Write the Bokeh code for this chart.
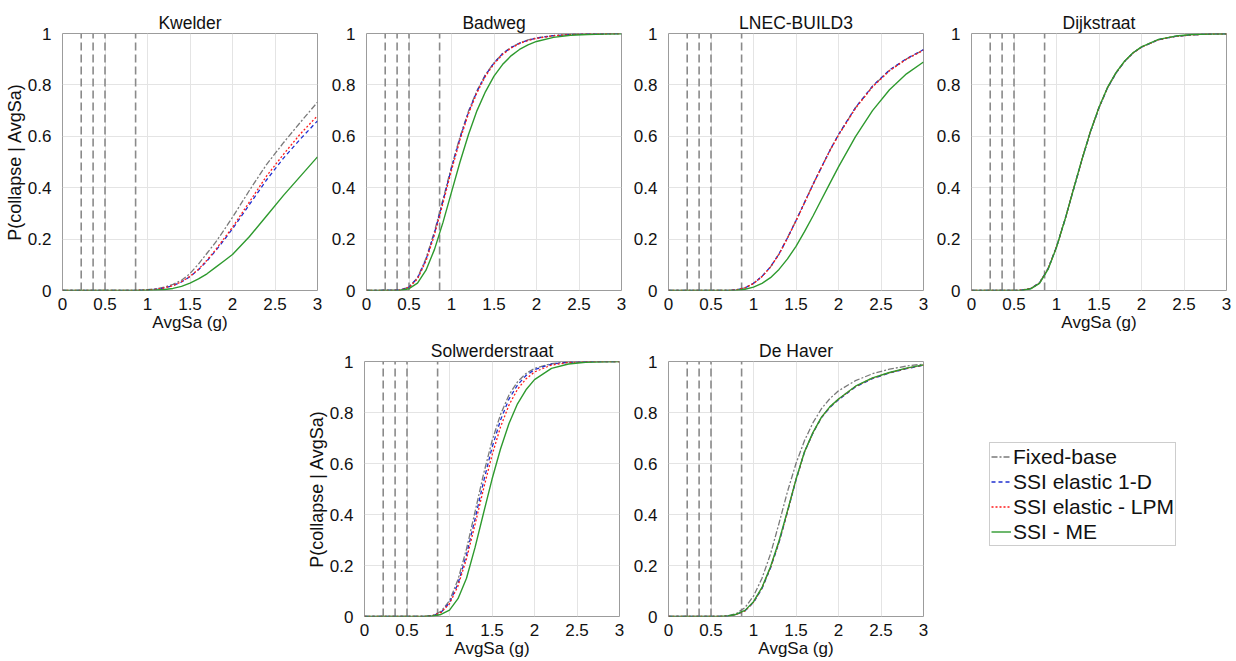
from bokeh.plotting import figure
from bokeh.layouts import row, column, Spacer
from bokeh.models import Legend, LegendItem, FixedTicker, Range1d
from bokeh.embed import file_html
from bokeh.resources import INLINE

# ---------------- data ----------------
AVGSA = [0, 0.4, 0.5, 0.6, 0.7, 0.8, 0.9, 1.0, 1.1, 1.2, 1.3, 1.4, 1.5,
         1.6, 1.7, 1.8, 1.9, 2.0, 2.2, 2.4, 2.6, 2.8, 3.0]

IM_LEVELS = [0.22, 0.36, 0.5, 0.86]

X_TICKS = [0, 0.5, 1, 1.5, 2, 2.5, 3]
X_TICK_LABELS = ["0", "0.5", "1", "1.5", "2", "2.5", "3"]
Y_TICKS = [0, 0.2, 0.4, 0.6, 0.8, 1]
Y_TICK_LABELS = ["0", "0.2", "0.4", "0.6", "0.8", "1"]

SERIES = ["Fixed-base", "SSI elastic 1-D", "SSI elastic - LPM", "SSI - ME"]
BUILDINGS = ["Kwelder", "Badweg", "LNEC-BUILD3", "Dijkstraat",
             "Solwerderstraat", "De Haver"]

KWELDER_FB = [0, 0, 0, 0, 0, 0, 0.001, 0.003, 0.007, 0.013, 0.024, 0.040, 0.066,
              0.103, 0.145, 0.187, 0.235, 0.285, 0.39, 0.49, 0.575, 0.655, 0.733]
KWELDER_1D = [0, 0, 0, 0, 0, 0, 0.001, 0.002, 0.005, 0.010, 0.019, 0.033, 0.054,
              0.081, 0.115, 0.154, 0.196, 0.240, 0.335, 0.43, 0.515, 0.59, 0.66]
KWELDER_LPM = [0, 0, 0, 0, 0, 0, 0.001, 0.002, 0.005, 0.010, 0.019, 0.034, 0.055,
               0.083, 0.118, 0.158, 0.202, 0.246, 0.345, 0.445, 0.53, 0.61, 0.68]
KWELDER_ME = [0, 0, 0, 0, 0, 0, 0, 0.001, 0.002, 0.004, 0.008, 0.016, 0.029,
              0.045, 0.065, 0.09, 0.115, 0.14, 0.21, 0.29, 0.37, 0.445, 0.52]

BADWEG_FB = [0, 0.002, 0.014, 0.05, 0.125, 0.23, 0.355, 0.482, 0.598, 0.698, 0.778, 0.84, 0.886,
             0.922, 0.946, 0.963, 0.975, 0.983, 0.992, 0.996, 0.998, 0.999, 1.0]
BADWEG_1D = [0, 0.002, 0.013, 0.048, 0.12, 0.224, 0.348, 0.476, 0.593, 0.694, 0.775, 0.838, 0.885,
             0.921, 0.945, 0.962, 0.974, 0.982, 0.992, 0.996, 0.998, 0.999, 1.0]
BADWEG_LPM = [0, 0.001, 0.012, 0.045, 0.115, 0.217, 0.34, 0.468, 0.586, 0.688, 0.77, 0.834, 0.882,
              0.918, 0.943, 0.961, 0.973, 0.981, 0.991, 0.996, 0.998, 0.999, 1.0]
BADWEG_ME = [0, 0.001, 0.007, 0.029, 0.079, 0.16, 0.265, 0.383, 0.5, 0.607, 0.70, 0.774, 0.834,
             0.879, 0.913, 0.938, 0.956, 0.969, 0.985, 0.993, 0.996, 0.998, 0.999]

LNEC_FB = [0, 0, 0, 0, 0, 0.003, 0.01, 0.028, 0.055, 0.092, 0.142, 0.205, 0.272,
           0.342, 0.413, 0.48, 0.546, 0.606, 0.711, 0.794, 0.857, 0.901, 0.936]
LNEC_1D = [0, 0, 0, 0, 0, 0.003, 0.01, 0.028, 0.055, 0.092, 0.142, 0.205, 0.272,
           0.342, 0.413, 0.48, 0.546, 0.607, 0.712, 0.795, 0.858, 0.902, 0.937]
LNEC_LPM = [0, 0, 0, 0, 0, 0.003, 0.01, 0.027, 0.054, 0.091, 0.141, 0.204, 0.271,
            0.341, 0.412, 0.479, 0.545, 0.604, 0.709, 0.792, 0.855, 0.90, 0.935]
LNEC_ME = [0, 0, 0, 0, 0, 0.001, 0.005, 0.013, 0.028, 0.05, 0.082, 0.123, 0.172,
           0.229, 0.29, 0.354, 0.418, 0.481, 0.599, 0.70, 0.781, 0.843, 0.889]

DIJK_FB = [0, 0, 0, 0.002, 0.008, 0.03, 0.085, 0.17, 0.277, 0.394, 0.51, 0.618, 0.711,
           0.788, 0.846, 0.891, 0.924, 0.947, 0.976, 0.989, 0.995, 0.998, 0.999]
DIJK_1D = [0, 0, 0, 0.002, 0.008, 0.03, 0.084, 0.169, 0.276, 0.393, 0.51, 0.618, 0.711,
           0.788, 0.846, 0.891, 0.924, 0.947, 0.976, 0.989, 0.995, 0.998, 0.999]
DIJK_LPM = [0, 0, 0, 0.002, 0.008, 0.029, 0.084, 0.169, 0.276, 0.394, 0.511, 0.619, 0.712,
            0.789, 0.847, 0.891, 0.924, 0.947, 0.976, 0.989, 0.995, 0.998, 0.999]
DIJK_ME = [0, 0, 0, 0.001, 0.007, 0.028, 0.082, 0.168, 0.276, 0.394, 0.511, 0.62, 0.713,
           0.79, 0.848, 0.892, 0.925, 0.948, 0.977, 0.99, 0.996, 0.998, 0.999]

SOLW_FB = [0, 0, 0, 0, 0.0005, 0.004, 0.02, 0.062, 0.145, 0.265, 0.41, 0.558, 0.688,
           0.792, 0.869, 0.92, 0.953, 0.973, 0.992, 0.998, 1.0, 1.0, 1.0]
SOLW_1D = [0, 0, 0, 0, 0, 0.003, 0.016, 0.054, 0.129, 0.242, 0.382, 0.528, 0.662,
           0.77, 0.853, 0.908, 0.945, 0.968, 0.99, 0.997, 0.999, 1.0, 1.0]
SOLW_LPM = [0, 0, 0, 0, 0, 0.003, 0.016, 0.05, 0.12, 0.226, 0.36, 0.5, 0.632,
            0.743, 0.829, 0.891, 0.932, 0.959, 0.986, 0.996, 0.999, 1.0, 1.0]
SOLW_ME = [0, 0, 0, 0, 0, 0.002, 0.008, 0.025, 0.07, 0.15, 0.27, 0.405, 0.538,
           0.657, 0.757, 0.834, 0.889, 0.929, 0.973, 0.99, 0.997, 0.999, 1.0]

HAVER_FB = [0, 0, 0, 0, 0.003, 0.012, 0.035, 0.08, 0.15, 0.245, 0.365, 0.49, 0.60,
            0.69, 0.76, 0.815, 0.855, 0.885, 0.925, 0.952, 0.97, 0.982, 0.99]
HAVER_1D = [0, 0, 0, 0, 0.002, 0.008, 0.022, 0.055, 0.11, 0.19, 0.29, 0.41, 0.535,
            0.645, 0.72, 0.78, 0.82, 0.85, 0.90, 0.933, 0.955, 0.972, 0.985]
HAVER_LPM = [0, 0, 0, 0, 0.002, 0.008, 0.022, 0.056, 0.112, 0.192, 0.292, 0.412, 0.536,
             0.645, 0.721, 0.781, 0.822, 0.852, 0.902, 0.935, 0.956, 0.973, 0.986]
HAVER_ME = [0, 0, 0, 0, 0.002, 0.009, 0.024, 0.058, 0.114, 0.195, 0.296, 0.415, 0.538,
            0.646, 0.722, 0.782, 0.823, 0.853, 0.903, 0.936, 0.957, 0.974, 0.987]

# ---------------- styles ----------------
FONT = "Liberation Sans"
COLORS = ["#7a7a7a", "#1f2fd0", "#ff1a1a", "#2e9a2e"]
DASHES = ["6 2 2 2", "4 3", "2 2", "solid"]
WIDTHS = [1.3, 1.3, 1.3, 1.4]


def make_panel(name, curves, left, right, top, bottom, fh, xlabel, ylabel):
    p = figure(frame_width=255, frame_height=fh,
               min_border_left=left, min_border_right=right,
               min_border_top=top, min_border_bottom=bottom,
               x_range=Range1d(0, 3), y_range=Range1d(0, 1),
               toolbar_location=None, output_backend="svg", title=name)
    p.background_fill_color = "white"
    p.border_fill_color = "white"
    p.outline_line_color = "#9c9c9c"
    p.outline_line_width = 1
    p.title.align = "center"
    p.title.text_font = FONT
    p.title.text_font_size = "17.5px"
    p.title.text_font_style = "normal"
    p.title.text_color = "#111111"
    p.title.standoff = 1

    p.xaxis.ticker = FixedTicker(ticks=X_TICKS)
    p.yaxis.ticker = FixedTicker(ticks=Y_TICKS)
    p.xaxis.major_label_overrides = dict(zip(X_TICKS, X_TICK_LABELS))
    p.yaxis.major_label_overrides = dict(zip(Y_TICKS, Y_TICK_LABELS))
    for ax in (p.xaxis, p.yaxis):
        ax.axis_line_color = None
        ax.major_tick_line_color = None
        ax.minor_tick_line_color = None
        ax.major_label_text_font = FONT
        ax.major_label_text_font_size = "17px"
        ax.major_label_text_color = "#111111"
        ax.axis_label_text_font = FONT
        ax.axis_label_text_font_size = "17px"
        ax.axis_label_text_font_style = "normal"
        ax.axis_label_text_color = "#111111"
        ax.axis_label_standoff = 0
    p.xaxis.major_label_standoff = 1
    p.yaxis.major_label_standoff = 5
    if xlabel:
        p.xaxis.axis_label = "AvgSa (g)"
    if ylabel:
        p.yaxis.axis_label = "P(collapse | AvgSa)"
        p.yaxis.axis_label_text_font_size = "18px"
    p.grid.grid_line_color = "#e4e4e4"
    p.grid.grid_line_width = 1

    p.segment(x0=IM_LEVELS, y0=[Y_TICKS[0]] * len(IM_LEVELS),
              x1=IM_LEVELS, y1=[Y_TICKS[-1]] * len(IM_LEVELS),
              line_color="#8a8a8a", line_width=1.6, line_dash="8 4")

    for curve, c, d, w in zip(curves, COLORS, DASHES, WIDTHS):
        p.line(AVGSA, curve, line_color=c, line_dash=d, line_width=w)
    return p


TOP_H, BOT_H = 257, 255

p1 = make_panel(BUILDINGS[0], [KWELDER_FB, KWELDER_1D, KWELDER_LPM, KWELDER_ME],
                62, 6, 33, 40, TOP_H, True, True)
p2 = make_panel(BUILDINGS[1], [BADWEG_FB, BADWEG_1D, BADWEG_LPM, BADWEG_ME],
                43, 5, 33, 40, TOP_H, False, False)
p3 = make_panel(BUILDINGS[2], [LNEC_FB, LNEC_1D, LNEC_LPM, LNEC_ME],
                42, 5, 33, 40, TOP_H, False, False)
p4 = make_panel(BUILDINGS[3], [DIJK_FB, DIJK_1D, DIJK_LPM, DIJK_ME],
                43, 10, 33, 40, TOP_H, True, False)
p5 = make_panel(BUILDINGS[4], [SOLW_FB, SOLW_1D, SOLW_LPM, SOLW_ME],
                62, 6, 27, 49, BOT_H, True, True)
p6 = make_panel(BUILDINGS[5], [HAVER_FB, HAVER_1D, HAVER_LPM, HAVER_ME],
                43, 6, 27, 49, BOT_H, True, False)

# ---------------- legend panel ----------------
pl = figure(width=307, height=331, min_border=0,
            x_axis_type=None, y_axis_type=None,
            x_range=Range1d(0, 1), y_range=Range1d(0, 1),
            toolbar_location=None, output_backend="svg")
pl.grid.visible = False
pl.outline_line_color = None
pl.background_fill_color = "white"
pl.border_fill_color = "white"
NAN = float("nan")
proxies = [pl.line(x=[NAN, NAN], y=[NAN, NAN], line_color=c, line_dash=d, line_width=w)
           for c, d, w in zip(COLORS, DASHES, WIDTHS)]
legend = Legend(items=[LegendItem(label=s, renderers=[r]) for s, r in zip(SERIES, proxies)],
                location=(60, 70))
legend.label_text_font = FONT
legend.label_text_font_size = "21px"
legend.label_text_color = "#111111"
legend.glyph_width = 20
legend.glyph_height = 25
legend.label_height = 25
legend.label_standoff = 2
legend.padding = 1
legend.spacing = 0
legend.margin = 0
legend.border_line_color = "#9c9c9c"
legend.border_line_width = 1
legend.background_fill_color = "white"
legend.background_fill_alpha = 1
pl.add_layout(legend)

layout = column(row(p1, p2, p3, p4),
                row(Spacer(width=302, height=331), p5, p6, pl))

open("out.html", "w").write(file_html(layout, INLINE))
